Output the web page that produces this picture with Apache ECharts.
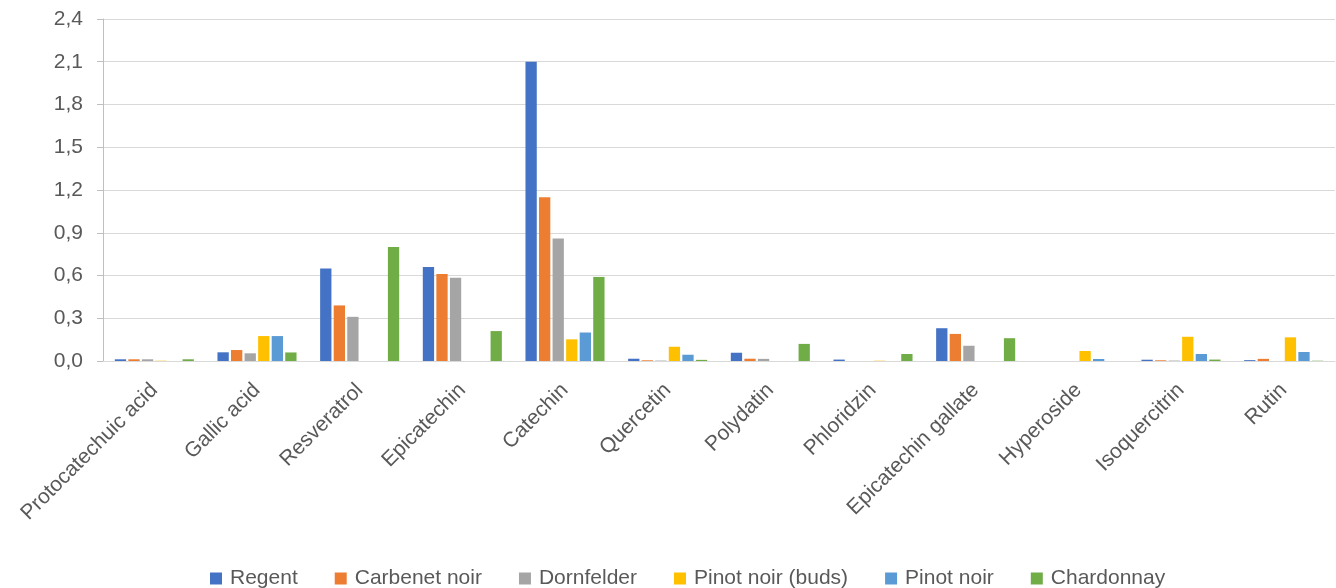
<!DOCTYPE html>
<html>
<head>
<meta charset="utf-8">
<script src="https://cdn.jsdelivr.net/npm/echarts@6/dist/echarts.min.js"></script>
<style>
  html, body { margin: 0; padding: 0; background: #fff; }
  #chart { width: 1336px; height: 588px; }
</style>
</head>
<body>
<div id="chart"></div>
<script>
// compounds on the x axis
const categories = ['Protocatechuic acid', 'Gallic acid', 'Resveratrol', 'Epicatechin', 'Catechin',
  'Quercetin', 'Polydatin', 'Phloridzin', 'Epicatechin gallate', 'Hyperoside', 'Isoquercitrin', 'Rutin'];

// values
const regent      = [0.012, 0.061, 0.65, 0.66, 2.10, 0.016, 0.058, 0.010, 0.23, 0,     0.009, 0.006];
const carbenet    = [0.012, 0.077, 0.39, 0.61, 1.15, 0.005, 0.016, 0,     0.19, 0,     0.005, 0.015];
const dornfelder  = [0.012, 0.054, 0.31, 0.585, 0.86, 0.003, 0.015, 0,    0.107, 0,    0.003, 0];
const pinotBuds   = [0.002, 0.175, 0,    0,    0.152, 0.10, 0,     0.002, 0,    0.07,  0.17,  0.166];
const pinotNoir   = [0,     0.175, 0,    0,    0.20, 0.044, 0,     0,     0,    0.014, 0.049, 0.063];
const chardonnay  = [0.012, 0.06,  0.80, 0.21, 0.59, 0.008, 0.12,  0.049, 0.16, 0,     0.01,  0.002];

const seriesNames = ['Regent', 'Carbenet noir', 'Dornfelder', 'Pinot noir (buds)', 'Pinot noir', 'Chardonnay'];
const seriesData = [regent, carbenet, dornfelder, pinotBuds, pinotNoir, chardonnay];
const colors = ['#4472C4', '#ED7D31', '#A5A5A5', '#FFC000', '#5B9BD5', '#70AD47'];

const chart = echarts.init(document.getElementById('chart'));

const series = seriesNames.map((name, i) => ({
  name: name,
  type: 'bar',
  data: seriesData[i],
  barGap: '20%',
  barCategoryGap: '23%',
  itemStyle: { color: colors[i] }
}));

chart.setOption({
  animation: false,
  backgroundColor: '#fff',
  textStyle: { fontFamily: 'Liberation Sans, Arial, sans-serif' },
  color: colors,
  grid: { left: 103, right: 1, top: 19, bottom: 227, containLabel: false },
  legend: {
    top: 563,
    left: 205,
    itemWidth: 12,
    itemHeight: 12,
    itemGap: 37,
    icon: 'rect',
    textStyle: { color: '#595959', fontSize: 21, padding: [0, 0, 0, 3] },
    data: seriesNames
  },
  xAxis: {
    type: 'category',
    data: categories,
    axisLine: { lineStyle: { color: '#d9d9d9', width: 1 } },
    axisTick: { show: false },
    axisLabel: { color: '#595959', fontSize: 21, rotate: 45, interval: 0, margin: 26 }
  },
  yAxis: {
    type: 'value',
    min: 0,
    max: 2.4,
    interval: 0.3,
    axisLine: { show: true, lineStyle: { color: '#bfbfbf' } },
    axisTick: { show: true, length: 6, lineStyle: { color: '#bfbfbf' } },
    axisLabel: {
      color: '#595959',
      fontSize: 21,
      margin: 20,
      formatter: v => v.toFixed(1).replace('.', ',')
    },
    splitLine: { lineStyle: { color: '#d9d9d9', width: 1 } }
  },
  series: series
});
</script>
</body>
</html>
